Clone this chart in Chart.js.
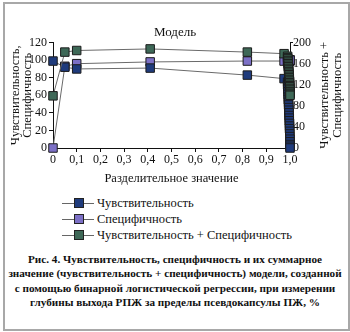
<!DOCTYPE html>
<html>
<head>
<meta charset="utf-8">
<script src="https://cdn.jsdelivr.net/npm/chart.js@4/dist/chart.umd.min.js"></script>
<style>
  body { margin: 0; background: #fff; font-family: "Liberation Serif", serif; }
  #frame { position: absolute; left: 3px; top: 2px; width: 343px; height: 325px; border: 2px solid #a8a8a8; }
  #chartBox { position: absolute; left: 0; top: 0; width: 350px; height: 190px; }
  #legend { position: absolute; left: 62px; top: 195px; font-size: 12.5px; color: #111; }
  .row { display: flex; align-items: center; height: 16px; }
  .mark { position: relative; width: 32px; height: 16px; margin-right: 3px; }
  .mark .ln { position: absolute; left: 0; right: 0; top: 8px; height: 1px; background: #666; }
  .mark .sq { position: absolute; left: 12px; top: 3px; width: 8px; height: 8px; border: 1px solid #222; }
  #caption { position: absolute; left: 8px; width: 334px; top: 252px; text-align: center;
             font-weight: bold; font-size: 11.2px; line-height: 14.4px; color: #111; }
</style>
</head>
<body>
<div id="frame"></div>
<div id="chartBox"><canvas id="myChart" width="350" height="190"></canvas></div>
<div id="legend"></div>
<div id="caption">Рис. 4. Чувствительность, специфичность и их суммарное<br>значение (чувствительность + специфичность) модели, созданной<br>с помощью бинарной логистической регрессии, при измерении<br>глубины выхода РПЖ за пределы псевдокапсулы ПЖ, %</div>
<script>
// data
const cutoffs = [0, 0.05, 0.1, 0.41, 0.82, 0.975,
  0.990, 0.990, 0.991, 0.991, 0.992, 0.992, 0.993, 0.993, 0.994, 0.994, 0.995, 0.995, 0.996, 0.996,
  0.997, 0.997, 0.998, 0.998, 0.998, 0.999, 0.999, 0.999, 1.0, 1.0, 1.0, 1.0, 1.0];
const sensitivity = [99, 92, 90, 91, 83, 79,
  75, 72, 70, 67, 64, 61, 58, 55, 52, 49, 46, 43, 40, 37, 34, 31, 28, 25, 22, 19, 16, 13, 10, 7, 4, 2, 0];
const specificity = [0, 93, 96, 98, 99, 99,
  99, 99, 99, 99, 99, 99, 99, 99, 99, 99, 99, 99, 99, 99, 99, 99, 99, 99, 99, 99, 100, 100, 100, 100, 100, 100, 100];
const sumValues = [99, 182, 185, 188, 182, 179,
  174, 171, 169, 166, 163, 160, 157, 154, 151, 148, 145, 142, 139, 136, 133, 130, 127, 124, 121, 118, 116, 113, 110, 107, 104, 102, 100];

const seriesLabels = ['Чувствительность', 'Специфичность', 'Чувствительность + Специфичность'];
const xTickLabels = ['0', '0,1', '0,2', '0,3', '0,4', '0,5', '0,6', '0,7', '0,8', '0,9', '1,0'];
const leftTitle = ['Чувствительность,', 'Специфичность'];
const rightTitle = ['Чувствительность +', 'Специфичность'];
const chartTitle = 'Модель';
const xTitle = 'Разделительное значение';

const fills = ['#1f3b7c', '#7c70c6', '#3e6857'];
const serif = '"Liberation Serif", serif';

function points(ys) {
    let out = [];
    for (let i = 0; i < cutoffs.length; i++) {
        out.push({x: cutoffs[i], y: ys[i]});
    }
    return out;
}

function makeSet(i, ys, axis, order) {
    return {
        label: seriesLabels[i],
        data: points(ys),
        yAxisID: axis,
        order: order,
        clip: false,
        borderColor: '#6a6a6a',
        borderWidth: 1,
        pointStyle: 'rect',
        pointRadius: 6,
        pointBackgroundColor: fills[i],
        pointBorderColor: '#1c1c1c',
        pointBorderWidth: 1,
        tension: 0
    };
}

// right axis title reads bottom-to-top in the figure
const rightTitlePlugin = {
    id: 'rightTitle',
    afterDraw(chart) {
        const ctx = chart.ctx;
        const area = chart.chartArea;
        ctx.save();
        ctx.fillStyle = '#111';
        ctx.font = '12.5px ' + serif;
        ctx.textAlign = 'center';
        ctx.textBaseline = 'middle';
        const yc = (area.top + area.bottom) / 2;
        const xs = [325, 338];
        for (let i = 0; i < rightTitle.length; i++) {
            ctx.save();
            ctx.translate(xs[i], yc);
            ctx.rotate(-Math.PI / 2);
            ctx.fillText(rightTitle[i], 0, 0);
            ctx.restore();
        }
        ctx.restore();
    }
};

const tickFont = {family: serif, size: 12};

new Chart(document.getElementById('myChart'), {
    type: 'line',
    data: {
        datasets: [
            makeSet(0, sensitivity, 'yL', 1),
            makeSet(1, specificity, 'yL', 2),
            makeSet(2, sumValues, 'yR', 0)
        ]
    },
    options: {
        responsive: false,
        animation: false,
        devicePixelRatio: 1,
        layout: {padding: 0},
        scales: {
            x: {
                type: 'linear',
                min: 0,
                max: 1,
                afterFit: (s) => { s.height = 42; },
                ticks: {
                    stepSize: 0.1,
                    color: '#111',
                    font: tickFont,
                    padding: 1,
                    maxRotation: 0,
                    callback: (v, i) => xTickLabels[i]
                },
                grid: {drawOnChartArea: false, color: '#111', tickLength: 4},
                border: {color: '#111', width: 1},
                title: {display: true, text: xTitle, color: '#111',
                        font: {family: serif, size: 12.5, lineHeight: 1}, padding: {top: 0, bottom: 5}}
            },
            yL: {
                position: 'left',
                min: 0,
                max: 120,
                afterFit: (s) => { s.width = 53; },
                ticks: {stepSize: 20, color: '#111', font: tickFont, padding: 2},
                grid: {drawOnChartArea: false, color: '#111', tickLength: 4},
                border: {color: '#111', width: 1},
                title: {display: true, text: leftTitle, color: '#111',
                        font: {family: serif, size: 12.5, lineHeight: 1}, padding: {top: 9, bottom: 0}}
            },
            yR: {
                position: 'right',
                min: 0,
                max: 200,
                afterFit: (s) => { s.width = 60; },
                ticks: {stepSize: 40, color: '#111', font: tickFont, padding: 0},
                grid: {drawOnChartArea: false, color: '#111', tickLength: 3},
                border: {color: '#111', width: 1}
            }
        },
        plugins: {
            legend: {display: false},
            tooltip: {enabled: false},
            title: {
                display: true,
                text: chartTitle,
                color: '#111',
                font: {family: serif, size: 13, weight: 'normal', lineHeight: 1.2},
                padding: {top: 25, bottom: 2}
            }
        }
    },
    plugins: [rightTitlePlugin]
});

// legend below the chart, one row per series
const legend = document.getElementById('legend');
for (let i = 0; i < seriesLabels.length; i++) {
    const row = document.createElement('div');
    row.className = 'row';
    row.innerHTML = '<span class="mark"><span class="ln"></span><span class="sq" style="background:' +
        fills[i] + '"></span></span><span>' + seriesLabels[i] + '</span>';
    legend.appendChild(row);
}
</script>
</body>
</html>
